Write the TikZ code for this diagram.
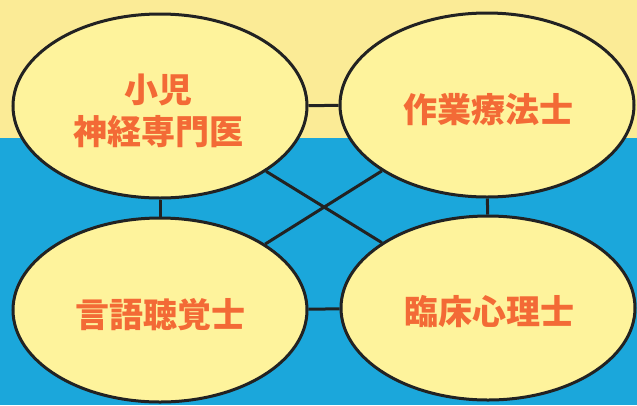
\documentclass[tikz,border=0pt]{standalone}
\usepackage{fontspec}
\newfontfamily\cjk{Noto Sans CJK JP}
\usetikzlibrary{shapes.geometric}
\definecolor{bgyellow}{HTML}{FBEB96}
\definecolor{bgblue}{HTML}{1BA7DB}
\definecolor{ellfill}{HTML}{FEF39C}
\definecolor{txtorange}{HTML}{F36A36}
\definecolor{edge}{HTML}{222222}
\tikzset{
  role/.style={ellipse, draw=edge, line width=3pt, fill=ellfill,
    minimum width=294pt, minimum height=184pt, inner sep=0pt},
  label/.style={inner sep=0pt, text=txtorange,
    font=\cjk\bfseries\fontsize{34}{40}\selectfont, align=center},
  link/.style={draw=edge, line width=3pt}
}
\begin{document}
\begin{tikzpicture}[x=1pt,y=-1pt]
\useasboundingbox (0,0) rectangle (637,405);
\fill[bgyellow] (0,0) rectangle (637,138);
\fill[bgblue] (0,138) rectangle (637,405);
\node[role] (a) at (160,106) {};
\node[role] (b) at (487,105) {};
\node[role] (c) at (160,310) {};
\node[role] (d) at (488,308) {};
\node[label] (ta) at (158,111) {小児\\[2pt]神経専門医};
\node[label] (tb) at (488,110) {作業療法士};
\node[label] (tc) at (160,315) {言語聴覚士};
\node[label] (td) at (489,312) {臨床心理士};
\path[link] (a) -- (b);
\path[link] (c) -- (d);
\path[link] (a) -- (c);
\path[link] (b) -- (d);
\path[link] (a) -- (d);
\path[link] (b) -- (c);
\end{tikzpicture}
\end{document}
